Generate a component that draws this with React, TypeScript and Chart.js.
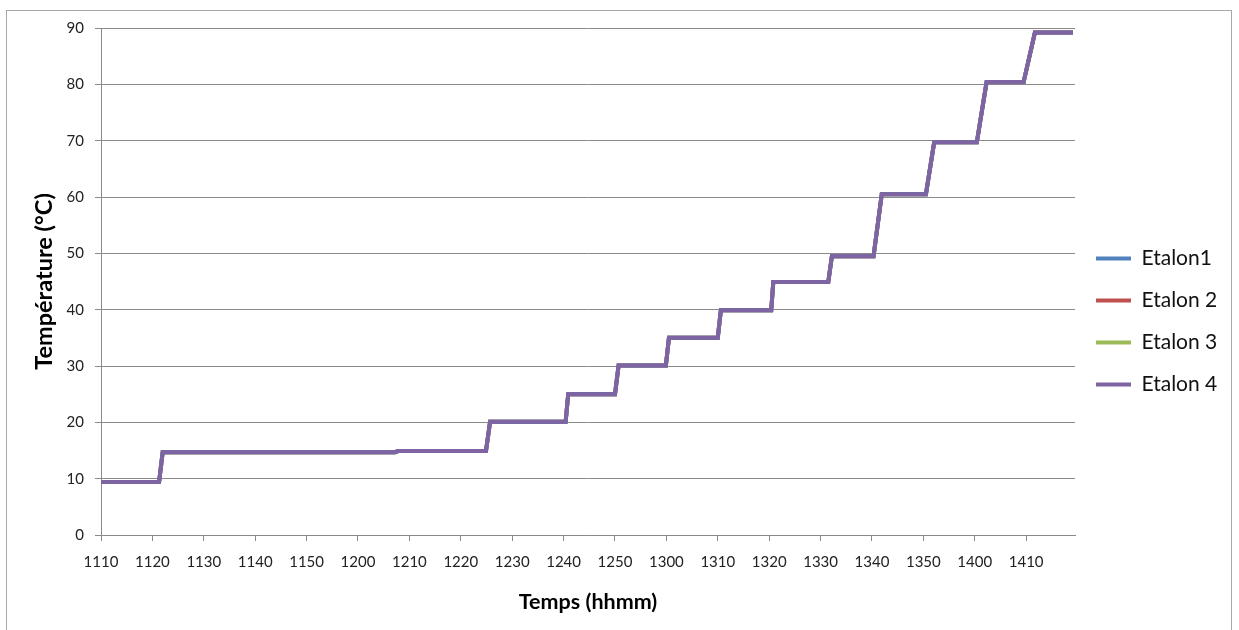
import { useEffect, useRef } from "react";
import { Chart, registerables } from "chart.js";

Chart.register(...registerables);

const seriesNames = ["Etalon1", "Etalon 2", "Etalon 3", "Etalon 4"];
const seriesColors = ["#4F81BD", "#C0504D", "#9BBB59", "#7E64A2"];

// hhmm labels shown every 10 minutes
const tickLabels = [
  "1110", "1120", "1130", "1140", "1150", "1200", "1210", "1220", "1230", "1240",
  "1250", "1300", "1310", "1320", "1330", "1340", "1350", "1400", "1410",
];

// minutes elapsed since 11:10 at each corner of the recorded curve
const elapsedMin = [
  0, 11.3, 12.0, 57.2, 57.8, 74.9, 75.7, 90.4, 90.9, 100.0, 100.7, 109.9, 110.5,
  120.0, 120.6, 130.4, 130.8, 141.5, 142.2, 150.3, 151.9, 160.5, 162.1, 170.4,
  172.3, 179.5, 181.7, 189.1,
];

const etalon1 = [
  9.4, 9.4, 14.7, 14.7, 14.9, 14.9, 20.1, 20.1, 25.0, 25.0, 30.1, 30.1, 35.0,
  35.0, 39.9, 39.9, 44.9, 44.9, 49.5, 49.5, 60.5, 60.5, 69.7, 69.7, 80.4, 80.4,
  89.2, 89.2,
];
const etalon2 = [
  9.4, 9.4, 14.7, 14.7, 14.9, 14.9, 20.1, 20.1, 25.0, 25.0, 30.1, 30.1, 35.0,
  35.0, 39.9, 39.9, 44.9, 44.9, 49.5, 49.5, 60.5, 60.5, 69.7, 69.7, 80.4, 80.4,
  89.2, 89.2,
];
const etalon3 = [
  9.4, 9.4, 14.7, 14.7, 14.9, 14.9, 20.1, 20.1, 25.0, 25.0, 30.1, 30.1, 35.0,
  35.0, 39.9, 39.9, 44.9, 44.9, 49.5, 49.5, 60.5, 60.5, 69.7, 69.7, 80.4, 80.4,
  89.2, 89.2,
];
const etalon4 = [
  9.4, 9.4, 14.7, 14.7, 14.9, 14.9, 20.1, 20.1, 25.0, 25.0, 30.1, 30.1, 35.0,
  35.0, 39.9, 39.9, 44.9, 44.9, 49.5, 49.5, 60.5, 60.5, 69.7, 69.7, 80.4, 80.4,
  89.2, 89.2,
];

const seriesValues = [etalon1, etalon2, etalon3, etalon4];

const FONT = "Lato, 'Open Sans', sans-serif";
const GRID = "#8a8a8a";

const legendWidthPlugin = {
  id: "legendWidth",
  beforeLayout(chart: any) {
    const lg = chart.legend;
    if (lg && !lg.__patched) {
      const orig = lg.fit.bind(lg);
      lg.fit = () => {
        orig();
        lg.width = 164;
      };
      lg.__patched = true;
    }
  },
};

export default function App() {
  const canvasRef = useRef<HTMLCanvasElement | null>(null);

  useEffect(() => {
    if (!canvasRef.current) return;
    const datasets = seriesNames.map((name, i) => ({
      label: name,
      data: elapsedMin.map((x, j) => ({ x, y: seriesValues[i][j] })),
      borderColor: seriesColors[i],
      backgroundColor: seriesColors[i],
      borderWidth: 4,
      pointRadius: 0,
      tension: 0,
      fill: false,
      order: i === 3 ? 0 : i + 1,
    }));

    const chart = new Chart(canvasRef.current, {
      type: "line",
      data: { datasets },
      plugins: [legendWidthPlugin],
      options: {
        responsive: true,
        maintainAspectRatio: false,
        animation: false,
        layout: { padding: { left: 0, right: 0, top: 28, bottom: 15 } },
        plugins: {
          tooltip: { enabled: false },
          legend: {
            position: "right",
            align: "center",
            labels: {
              usePointStyle: true,
              pointStyle: "line",
              pointStyleWidth: 35,
              padding: 21,
              color: "#111",
              font: { family: FONT, size: 21 },
              sort: (a: any, b: any) => a.datasetIndex - b.datasetIndex,
            },
          },
        },
        scales: {
          x: {
            type: "linear",
            min: 0,
            max: 189.5,
            afterFit: (s: any) => {
              s.height = 80;
            },
            ticks: {
              stepSize: 10,
              includeBounds: false,
              autoSkip: false,
              maxRotation: 0,
              padding: 12,
              color: "#222",
              font: { family: FONT, size: 15 },
              callback: (v: any) => tickLabels[Math.round(Number(v) / 10)] ?? "",
            },
            grid: {
              drawOnChartArea: false,
              drawTicks: true,
              tickLength: 6,
              color: GRID,
            },
            border: { color: GRID, width: 1 },
            title: {
              display: true,
              text: "Temps (hhmm)",
              color: "#000",
              font: { family: FONT, size: 21.5, weight: "bold" },
              padding: { top: 0, bottom: 0 },
            },
          },
          y: {
            min: 0,
            max: 90,
            afterFit: (s: any) => {
              s.width = 101;
            },
            ticks: {
              stepSize: 10,
              padding: 11,
              color: "#222",
              font: { family: FONT, size: 15 },
            },
            grid: { color: GRID, tickLength: 6 },
            border: { color: GRID, width: 1 },
            title: {
              display: true,
              text: "Température (°C)",
              color: "#000",
              font: { family: FONT, size: 23.5, weight: "bold" },
              padding: { top: 30, bottom: 0 },
            },
          },
        },
      },
    } as any);

    return () => chart.destroy();
  }, []);

  return (
    <div
      style={{
        position: "fixed",
        left: 0,
        top: 0,
        width: 1239,
        height: 630,
        background: "#fff",
        overflow: "hidden",
      }}
    >
      <div
        style={{
          position: "absolute",
          left: 6,
          top: 10,
          width: 1226,
          height: 640,
          border: "1px solid #a8a8a8",
          boxSizing: "border-box",
        }}
      />
      <div style={{ position: "absolute", left: 0, top: 0, width: 1239, height: 630 }}>
        <canvas ref={canvasRef} />
      </div>
    </div>
  );
}
